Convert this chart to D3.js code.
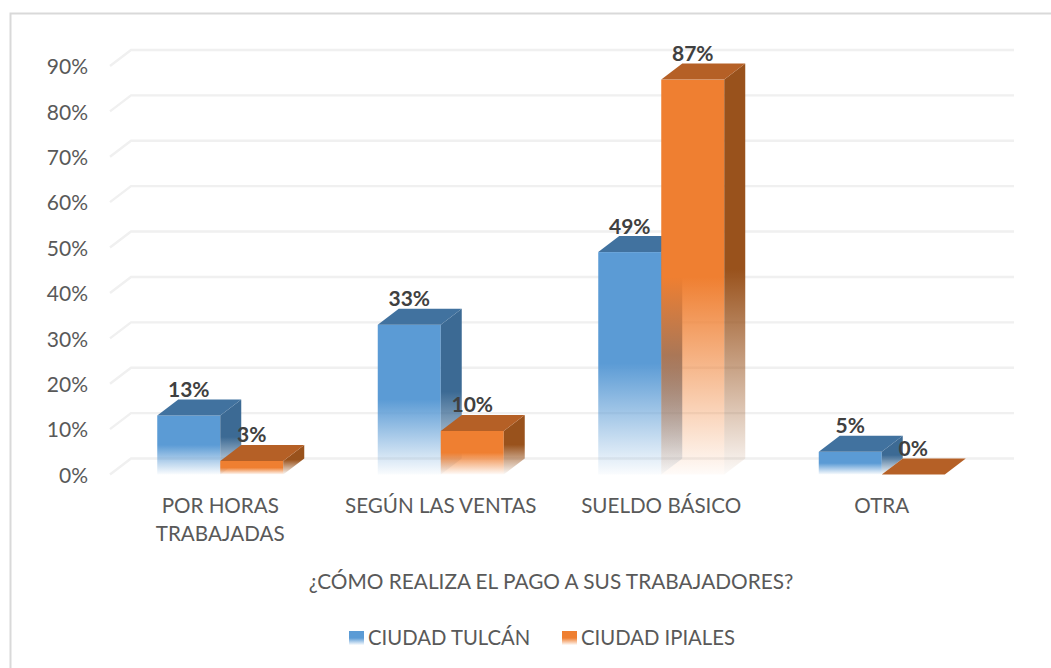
<!DOCTYPE html>
<html><head><meta charset="utf-8">
<style>html,body{margin:0;padding:0;background:#fff}svg{display:block}text{font-family:Lato,"Open Sans",sans-serif}</style>
<script src="https://cdn.jsdelivr.net/npm/d3@7/dist/d3.min.js"></script></head><body>
<script>
const categories=[["POR HORAS","TRABAJADAS"],["SEGÚN LAS VENTAS"],["SUELDO BÁSICO"],["OTRA"]];
const seriesNames=["CIUDAD TULCÁN","CIUDAD IPIALES"];
const tulcan=[13,33,49,5];
const ipiales=[3,9.6,87,0];
const yTicks=[0,10,20,30,40,50,60,70,80,90];
const seriesValues=[tulcan,ipiales];
const colors=[{front:"#5b9bd5",side:"#3c6a94",top:"#41729f"},{front:"#ef7f31",side:"#99521c",top:"#b56026"}];
const W=1051,H=668,depthX=21,depthY=16;
const svg=d3.select("body").append("svg").attr("width",W).attr("height",H);
const defs=svg.append("defs");
const x0=d3.scaleBand().domain(d3.range(categories.length)).range([110,992]);
const x1=d3.scaleBand().domain(d3.range(seriesNames.length)).range([0,x0.bandwidth()]).paddingInner(0).paddingOuter(0.75);
const y=d3.scaleLinear().domain([0,90]).range([474.5,66]);

function grad(id,c){const g=defs.append("linearGradient").attr("id",id).attr("x1",0).attr("y1",0).attr("x2",0).attr("y2",1);
 g.append("stop").attr("offset","50%").attr("stop-color",c).attr("stop-opacity",1);
 g.append("stop").attr("offset","100%").attr("stop-color",c).attr("stop-opacity",0.03);}
colors.forEach((c,i)=>{grad("f"+i,c.front);grad("s"+i,c.side);});

// frame: left and top edges only, the right side runs off the page
svg.append("path").attr("d","M10.5,668V13.5H1051").attr("fill","none").attr("stroke","#d9d9d9").attr("stroke-width",2);

// gridlines on floor + back wall
const grid=svg.append("g").attr("fill","none").attr("stroke","#f0f0f0").attr("stroke-width",2.4);
yTicks.forEach(t=>grid.append("path").attr("d",`M${x0.range()[0]},${y(t)}L${x0.range()[0]+depthX},${y(t)-depthY}H${x0.range()[1]+depthX+1}`));

// y axis
const yAxis=svg.append("g").attr("transform","translate(88,1)").call(d3.axisLeft(y).tickValues(yTicks).tickSize(0).tickPadding(0).tickFormat(d=>d+"%"));
yAxis.select(".domain").remove();
yAxis.selectAll("text").attr("font-size",21).attr("fill","#595959").style("font-family","Lato,sans-serif");

// bars
const labels=[];
categories.forEach((cat,ci)=>{
 seriesNames.forEach((s,si)=>{
  const v=seriesValues[si][ci],x=x0(ci)+x1(si),w=x1.bandwidth(),t=y(v),b=y(0),c=colors[si];
  const g=svg.append("g");
  if(v>0){
   g.append("rect").attr("x",x).attr("y",t).attr("width",w).attr("height",b-t).attr("fill",`url(#f${si})`);
   g.append("path").attr("d",`M${x+w},${t}L${x+w+depthX},${t-depthY}V${b-depthY}L${x+w},${b}Z`).attr("fill",`url(#s${si})`);
  }
  g.append("path").attr("d",`M${x},${t}L${x+depthX},${t-depthY}H${x+w+depthX}L${x+w},${t}Z`).attr("fill",c.top);
  labels.push({x:x+w/2,y:t-18.5,v});
 });
});
svg.append("g").selectAll("text").data(labels).join("text").attr("x",d=>d.x).attr("y",d=>d.y).attr("text-anchor","middle")
 .attr("font-size",21).attr("font-weight",700).attr("fill","#404040").text(d=>Math.round(d.v)+"%");

// category labels
categories.forEach((cat,ci)=>cat.forEach((line,li)=>{
 svg.append("text").attr("x",x0(ci)+x0.bandwidth()/2).attr("y",513+li*28).attr("text-anchor","middle")
  .attr("font-size",20.6).attr("fill","#595959").text(line);
}));
// axis title
svg.append("text").attr("x",551).attr("y",589).attr("text-anchor","middle").attr("font-size",20.8).attr("fill","#595959").text("¿CÓMO REALIZA EL PAGO A SUS TRABAJADORES?");
// legend
const legendX=[349,562];
seriesNames.forEach((s,i)=>{
 svg.append("rect").attr("x",legendX[i]).attr("y",631).attr("width",15).attr("height",14).attr("fill",`url(#f${i})`);
 svg.append("text").attr("x",legendX[i]+19).attr("y",644.5).attr("font-size",20.3).attr("fill","#595959").text(s);
});
</script></body></html>
